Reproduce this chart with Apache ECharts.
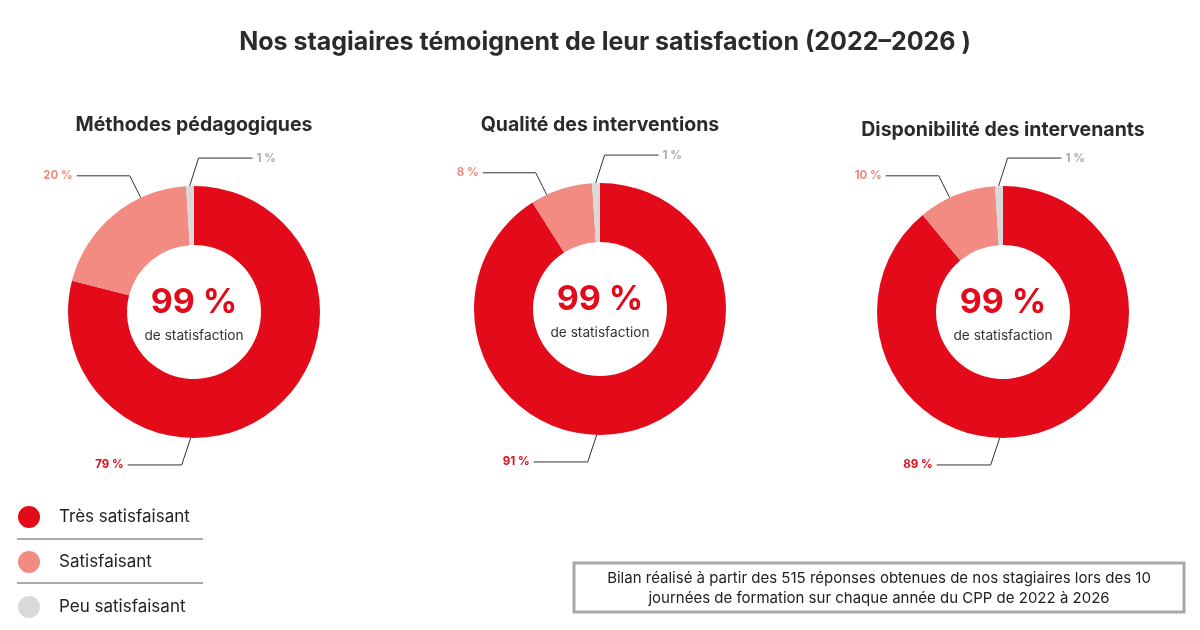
<!DOCTYPE html>
<html>
<head>
<meta charset="utf-8">
<title>Satisfaction des stagiaires</title>
<script src="https://cdn.jsdelivr.net/npm/echarts@6/dist/echarts.min.js"></script>
<style>
    html, body { margin: 0; padding: 0; background: #fff; }
    #main { width: 1200px; height: 630px; }
</style>
</head>
<body>
<div id="main"></div>
<script>
/*************************** data ***************************/
var categories = ['Très satisfaisant', 'Satisfaisant', 'Peu satisfaisant'];
var chartTitles = ['Méthodes pédagogiques', 'Qualité des interventions', 'Disponibilité des intervenants'];
var methodes = [79, 20, 1];
var qualite = [91, 8, 1];
var disponibilite = [89, 10, 1];
var centerValues = ['99 %', '99 %', '99 %'];
var centerCaption = 'de statisfaction';
var mainTitle = 'Nos stagiaires témoignent de leur satisfaction (2022–2026 )';
var footNote = ['Bilan réalisé à partir des 515 réponses obtenues de nos stagiaires lors des 10',
                'journées de formation sur chaque année du CPP de 2022 à 2026'];

/*************************** layout ***************************/
var FONT = 'Inter, "Noto Sans", sans-serif';
var colors = ['#e30b1a', '#f28b82', '#d9d9d9'];
var labelColors = ['#e30b1a', '#f08a80', '#ababab'];
var centers = [[194, 312], [600, 309], [1003, 312]];
var titleY = [125, 125, 130];
var radius = [67, 126];
// label line per slice: anchor angle (deg, clockwise from top), first leg, horizontal leg
var labelGeo = [
    {angle: 181.5, leg: [-9, 27], run: -54},
    {angle: -25, leg: [-11, -22], run: -53},
    {angle: -2, leg: [9, -28], run: 54}
];

function main() {
    var myChart = echarts.init(document.getElementById('main'));
    var allValues = [methodes, qualite, disponibilite];

    function makeLayout(si) {
        return function (params) {
            var g = labelGeo[params.dataIndex];
            var c = centers[si];
            var a = g.angle * Math.PI / 180;
            var p0 = [c[0] + radius[1] * Math.sin(a), c[1] - radius[1] * Math.cos(a)];
            var p1 = [p0[0] + g.leg[0], p0[1] + g.leg[1]];
            var p2 = [p1[0] + g.run, p1[1]];
            return {
                x: p2[0] + (g.run > 0 ? 4 : -4),
                y: p2[1],
                align: g.run > 0 ? 'left' : 'right',
                verticalAlign: 'middle',
                labelLinePoints: [p0, p1, p2]
            };
        };
    }

    var series = allValues.map(function (vals, si) {
        return {
            name: chartTitles[si],
            type: 'pie',
            center: centers[si],
            radius: radius,
            startAngle: 90,
            clockwise: true,
            avoidLabelOverlap: false,
            silent: true,
            data: vals.map(function (v, i) {
                return {
                    value: v,
                    name: categories[i],
                    itemStyle: {color: colors[i]},
                    label: {color: labelColors[i]}
                };
            }),
            label: {
                show: true,
                position: 'outside',
                formatter: '{c} %',
                fontFamily: FONT,
                fontWeight: 'bold',
                fontSize: 11.5
            },
            labelLine: {
                show: true,
                lineStyle: {color: '#333', width: 1}
            },
            labelLayout: makeLayout(si)
        };
    });

    var graphics = [{
        type: 'text', x: 605, y: 42,
        style: {text: mainTitle, fontFamily: FONT, fontWeight: 'bold', fontSize: 25,
                fill: '#2b2b2b', align: 'center', verticalAlign: 'middle'}
    }];
    chartTitles.forEach(function (t, si) {
        graphics.push({
            type: 'text', x: centers[si][0], y: titleY[si],
            style: {text: t, fontFamily: FONT, fontWeight: 'bold', fontSize: 19.5,
                    fill: '#2b2b2b', align: 'center', verticalAlign: 'middle'}
        });
        graphics.push({
            type: 'text', x: centers[si][0], y: centers[si][1] - 9,
            style: {text: centerValues[si], fontFamily: FONT, fontWeight: 'bold', fontSize: 34,
                    fill: colors[0], align: 'center', verticalAlign: 'middle'}
        });
        graphics.push({
            type: 'text', x: centers[si][0], y: centers[si][1] + 24,
            style: {text: centerCaption, fontFamily: FONT, fontSize: 13.7,
                    fill: '#333', align: 'center', verticalAlign: 'middle'}
        });
    });
    // legend separators
    [539, 583].forEach(function (y) {
        graphics.push({
            type: 'line', shape: {x1: 17, y1: y, x2: 203, y2: y},
            style: {stroke: '#aaaaaa', lineWidth: 2}
        });
    });
    // foot note box
    graphics.push({
        type: 'rect', shape: {x: 574, y: 563, width: 610, height: 49},
        style: {fill: '#fff', stroke: '#a8a8a8', lineWidth: 3}
    });
    footNote.forEach(function (line, i) {
        graphics.push({
            type: 'text', x: 879, y: 578 + i * 20,
            style: {text: line, fontFamily: FONT, fontSize: 15, fill: '#222',
                    align: 'center', verticalAlign: 'middle'}
        });
    });

    var option = {
        backgroundColor: '#ffffff',
        legend: {
            data: categories,
            orient: 'vertical',
            left: 13,
            top: 501,
            icon: 'circle',
            itemWidth: 22,
            itemHeight: 22,
            itemGap: 23,
            selectedMode: false,
            textStyle: {fontFamily: FONT, fontSize: 17, color: '#222', padding: [0, 0, 0, 14]}
        },
        graphic: graphics,
        series: series
    };

    myChart.setOption(option);
}

main();
</script>
</body>
</html>
